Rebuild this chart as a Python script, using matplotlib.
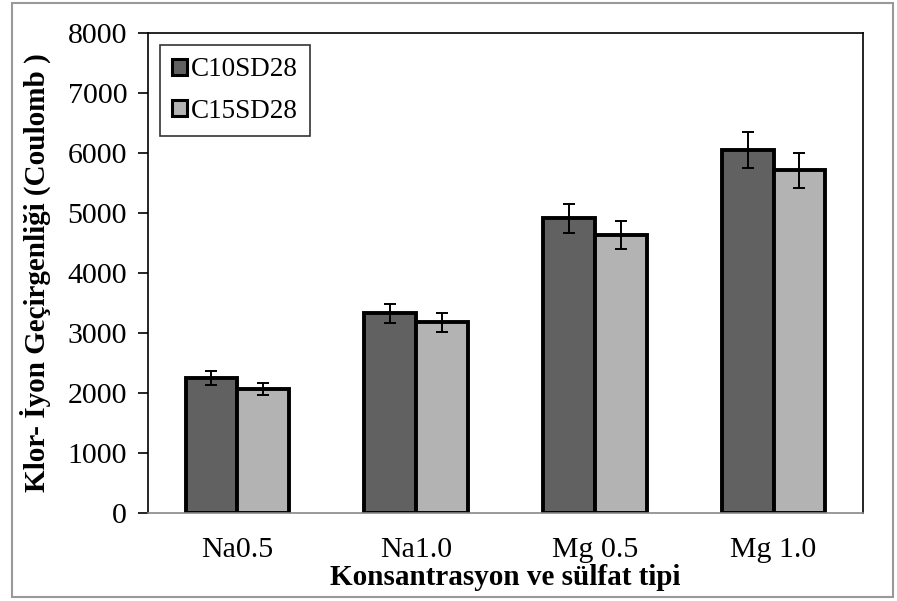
import matplotlib
matplotlib.use("Agg")
import matplotlib.pyplot as plt
import numpy as np
from matplotlib.patches import Rectangle

plt.rcParams['font.family'] = ['Liberation Serif', 'DejaVu Serif']

# Klor iyon geçirgenliği (Coulomb), ortalama ve hata
categories = ['Na0.5', 'Na1.0', 'Mg 0.5', 'Mg 1.0']
series_names = ['C10SD28', 'C15SD28']
c10_values = [2250, 3330, 4910, 6050]
c10_errors = [110, 160, 245, 300]
c15_values = [2060, 3180, 4630, 5710]
c15_errors = [100, 155, 235, 285]
yticks = [0, 1000, 2000, 3000, 4000, 5000, 6000, 7000, 8000]

COLORS = ['#616161', '#b3b3b3']
FS_TICK = 21.5
FS_LABEL = 21
FS_LEG = 19.5
BAR_W = 0.29

fig = plt.figure(figsize=(8.97, 6.01), dpi=100)
ax = fig.add_axes([0.165, 0.1464, 0.797, 0.7986])

x = np.arange(len(categories))
for k, (vals, errs) in enumerate([(c10_values, c10_errors), (c15_values, c15_errors)]):
    offset = (k - 0.5) * BAR_W
    ax.bar(x + offset, vals, BAR_W, color=COLORS[k], edgecolor='black',
           linewidth=2.8, label=series_names[k], zorder=2)
    ax.errorbar(x + offset, vals, yerr=errs, fmt='none', ecolor='black',
                elinewidth=1.4, capsize=4, capthick=1.4, zorder=3)

ax.set_xlim(-0.5, len(categories) - 0.5)
ax.set_ylim(0, 8000)
ax.set_yticks(yticks)
ax.set_yticklabels([str(t) for t in yticks], fontsize=FS_TICK)
ax.set_xticks(x)
ax.set_xticklabels(categories, fontsize=FS_TICK)
ax.tick_params(axis='x', length=0, pad=17)
ax.tick_params(axis='y', length=7, width=1.2, direction='out', pad=8)

for side in ['left', 'top', 'right']:
    ax.spines[side].set_color('black')
    ax.spines[side].set_linewidth(1.2)
ax.spines['bottom'].set_color('#888888')
ax.spines['bottom'].set_linewidth(1.2)

ax.set_xlabel('Konsantrasyon ve sülfat tipi', fontsize=FS_LABEL, fontweight='bold')
ax.set_ylabel('Klor- İyon Geçirgenliği (Coulomb )', fontsize=FS_LABEL, fontweight='bold')
ax.xaxis.set_label_coords(0.5, -0.106)
ax.yaxis.set_label_coords(-0.135, 0.5)

leg = ax.legend(loc='upper left', fontsize=FS_LEG, frameon=True, fancybox=False,
                handlelength=0.55, handleheight=0.55, handletextpad=0.15,
                borderpad=0.45, labelspacing=0.6, borderaxespad=0.45)
leg.get_frame().set_edgecolor('black')
leg.get_frame().set_linewidth(1.2)
for h in leg.legend_handles:
    h.set_linewidth(2.2)

# gray outer frame around the figure
fig.patches.append(Rectangle((0.013, 0.007), 0.982, 0.988, transform=fig.transFigure,
                             fill=False, edgecolor='#999999', linewidth=1.5))

fig.savefig('out.png', dpi=100)
